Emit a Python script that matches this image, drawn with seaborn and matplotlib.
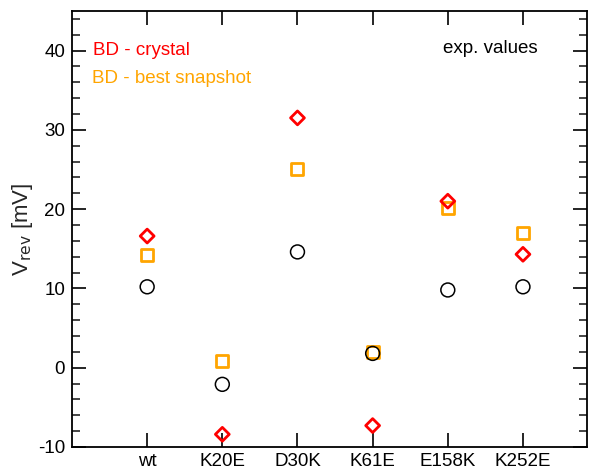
import matplotlib
matplotlib.use("Agg")
import matplotlib.pyplot as plt
import seaborn as sns
import pandas as pd
from matplotlib.ticker import MultipleLocator

mutants = ["wt", "K20E", "D30K", "K61E", "E158K", "K252E"]
bd_crystal = [16.6, -8.4, 31.5, -7.3, 21.0, 14.3]
bd_snapshot = [14.2, 0.8, 25.0, 2.0, 20.1, 17.0]
exp_values = [10.2, -2.1, 14.6, 1.8, 9.8, 10.2]

sns.set_style("ticks")
plt.rcParams['font.family'] = ['Liberation Sans', 'DejaVu Sans']
plt.rcParams['axes.unicode_minus'] = False

df = pd.DataFrame({"mutant": mutants, "crystal": bd_crystal,
                   "snapshot": bd_snapshot, "exp": exp_values})

fig = plt.figure(figsize=(5.97, 4.72), dpi=100)
ax = fig.add_axes([0.1206, 0.053, 0.983 - 0.1206, 0.977 - 0.053])

sns.scatterplot(data=df, x="mutant", y="snapshot", marker="s", s=75,
                facecolors="none", edgecolor="#FFA500", linewidth=2.0, ax=ax, zorder=3)
sns.scatterplot(data=df, x="mutant", y="crystal", marker="D", s=50,
                facecolors="none", edgecolor="#FF0000", linewidth=2.0, ax=ax, zorder=4)
sns.scatterplot(data=df, x="mutant", y="exp", marker="o", s=100,
                facecolors="none", edgecolor="black", linewidth=1.1, ax=ax, zorder=5)

ax.set_xlim(-1, 5.85)
ax.set_ylim(-10, 45)
ax.yaxis.set_major_locator(MultipleLocator(10))
ax.yaxis.set_minor_locator(MultipleLocator(2))
ax.set_yticks([-10, 0, 10, 20, 30, 40])
ax.set_xticks(range(len(mutants)))
ax.set_xticklabels(mutants)
ax.tick_params(axis="both", which="major", direction="in", length=10, width=1.2,
               top=True, right=True, labelsize=13.5, colors="black")
ax.tick_params(axis="y", which="minor", direction="in", length=6, width=1.2, right=True)
ax.tick_params(axis="x", which="major", pad=4.5)
ax.tick_params(axis="y", which="major", pad=5)
for sp in ax.spines.values():
    sp.set_visible(True)
    sp.set_linewidth(1.3)
    sp.set_color("black")

ax.set_xlabel("")
ax.set_ylabel(r"V$_{\mathrm{rev}}$ [mV]", fontsize=16, labelpad=2)

ax.text(0.04, 0.91, "BD - crystal", color="#FF0000", fontsize=13.5, transform=ax.transAxes, va="center")
ax.text(0.038, 0.846, "BD - best snapshot", color="#FFA500", fontsize=13.5, transform=ax.transAxes, va="center")
ax.text(0.72, 0.914, "exp. values", color="black", fontsize=13.5, transform=ax.transAxes, va="center")

fig.savefig("out.png", dpi=100)
